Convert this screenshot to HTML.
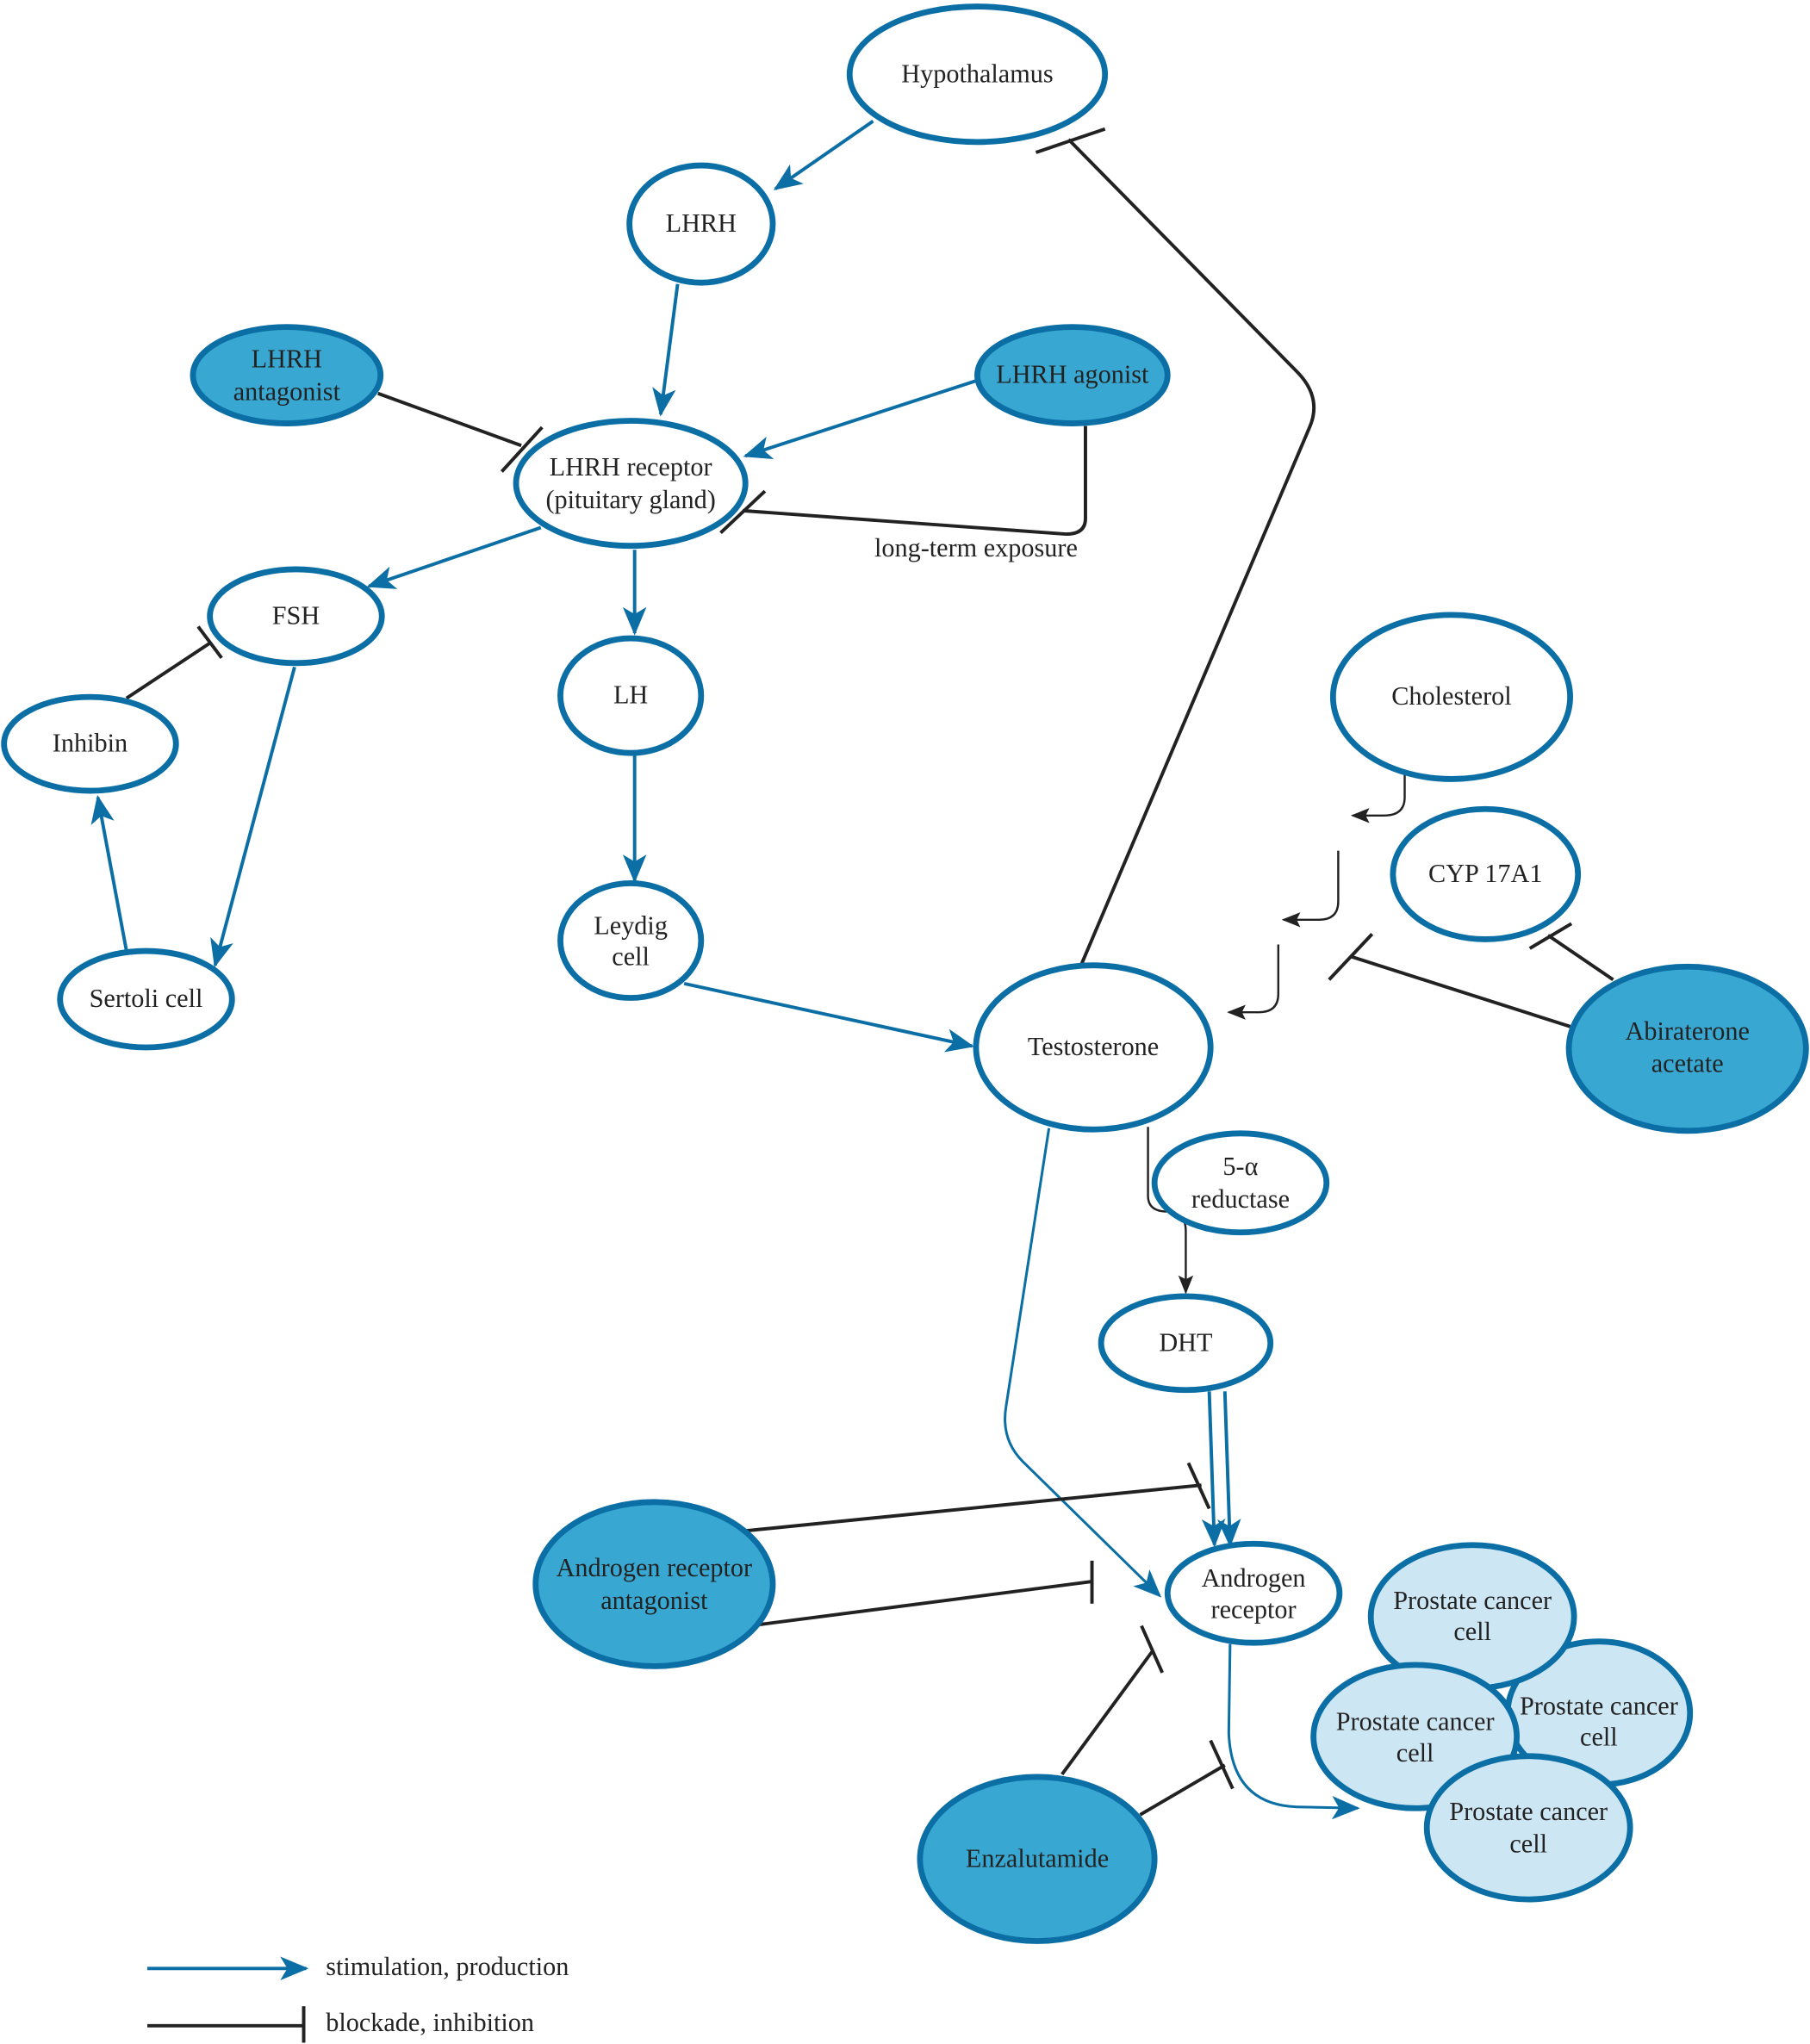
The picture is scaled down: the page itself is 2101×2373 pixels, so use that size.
<!DOCTYPE html>
<html><head><meta charset="utf-8"><style>
html,body{margin:0;padding:0;background:#fff;}
svg{display:block;}
text{font-family:"Liberation Serif",serif;font-size:20px;fill:#222;text-anchor:middle;}
</style></head><body>
<svg width="2101" height="2373" viewBox="0 0 1389 1569" xmlns="http://www.w3.org/2000/svg">
<defs>
<marker id="ab" viewBox="0 0 12 10" refX="11" refY="5" markerWidth="8.5" markerHeight="7" orient="auto" markerUnits="strokeWidth">
<path d="M0,0 L12,5 L0,10 L3,5 z" fill="#0b6fa6"/></marker>
<marker id="abt" viewBox="0 0 12 10" refX="11" refY="5" markerWidth="11" markerHeight="9" orient="auto" markerUnits="strokeWidth">
<path d="M0,0 L12,5 L0,10 L3,5 z" fill="#0b6fa6"/></marker>
<marker id="ak" viewBox="0 0 10 10" refX="9" refY="5" markerWidth="9" markerHeight="9" orient="auto" markerUnits="strokeWidth">
<path d="M0,1 L10,5 L0,9 L2,5 z" fill="#222"/></marker>
</defs>
<g fill="none" stroke-linecap="butt">
<g stroke="#0b6fa6" stroke-width="2.6">
<line x1="670" y1="93" x2="595" y2="145" marker-end="url(#ab)"/>
<line x1="520" y1="218" x2="507" y2="318" marker-end="url(#ab)"/>
<line x1="750" y1="292" x2="572" y2="350" marker-end="url(#ab)"/>
<line x1="415" y1="405" x2="283" y2="450" marker-end="url(#ab)"/>
<line x1="487" y1="422" x2="487" y2="486" marker-end="url(#ab)"/>
<line x1="226" y1="512" x2="165" y2="741" marker-end="url(#ab)"/>
<line x1="97" y1="730" x2="75" y2="612" marker-end="url(#ab)"/>
<line x1="487" y1="580" x2="487" y2="676" marker-end="url(#ab)"/>
<line x1="525" y1="755" x2="746" y2="803" marker-end="url(#ab)"/>
<line x1="928" y1="1068" x2="932" y2="1186" marker-end="url(#ab)"/>
<line x1="940" y1="1068" x2="944" y2="1186" marker-end="url(#ab)"/>
<line x1="113" y1="1511" x2="235" y2="1511" marker-end="url(#ab)"/>
</g>
<g stroke="#0b6fa6" stroke-width="2">
<path d="M805,866 L772,1080 Q768,1105 785,1122 L890,1225" marker-end="url(#abt)"/>
<path d="M944,1262 L943,1330 Q945,1385 995,1387 L1042,1388" marker-end="url(#abt)"/>
</g>
<g stroke="#222" stroke-width="2.6">
<line x1="290" y1="302" x2="400" y2="342"/><line x1="385" y1="362" x2="416" y2="328"/>
<path d="M833,327 L833,398 Q833,410 818,410 L570,392"/><line x1="553" y1="409" x2="587" y2="377"/>
<path d="M830,740 L1005,328 Q1015,305 995,285 L820,107"/><line x1="795" y1="117" x2="848" y2="99"/>
<line x1="97" y1="536" x2="162" y2="493"/><line x1="152" y1="481" x2="170" y2="505"/>
<line x1="1238" y1="752" x2="1188" y2="718"/><line x1="1174" y1="728" x2="1206" y2="709"/>
<line x1="1205" y1="788" x2="1036" y2="734"/><line x1="1020" y1="752" x2="1053" y2="717"/>
<line x1="573" y1="1175" x2="922" y2="1140"/><line x1="912" y1="1123" x2="928" y2="1158"/>
<line x1="583" y1="1247" x2="838" y2="1214"/><line x1="838" y1="1198" x2="838" y2="1231"/>
<line x1="815" y1="1362" x2="884" y2="1268"/><line x1="876" y1="1248" x2="892" y2="1284"/>
<line x1="875" y1="1393" x2="940" y2="1355"/><line x1="929" y1="1336" x2="946" y2="1373"/>
<line x1="113" y1="1555" x2="233" y2="1555"/><line x1="233" y1="1540" x2="233" y2="1568"/>
</g>
<g stroke="#222" stroke-width="1.6">
<path d="M1078,572 L1078,612 Q1078,626 1062,626 L1038,626" marker-end="url(#ak)"/>
<path d="M1027,653 L1027,692 Q1027,706 1012,706 L985,706" marker-end="url(#ak)"/>
<path d="M981,725 L981,763 Q981,777 966,777 L943,777" marker-end="url(#ak)"/>
<path d="M881,865 L881,918 Q881,930 896,930 Q910,930 910,945 L910,992" marker-end="url(#ak)"/>
</g>
</g>
<g stroke="#0b6fa6" stroke-width="4.5">
<g fill="#fff">
<ellipse cx="750" cy="57" rx="98" ry="52"/>
<ellipse cx="538" cy="172" rx="55" ry="45"/>
<ellipse cx="484" cy="371" rx="88" ry="48"/>
<ellipse cx="227" cy="473" rx="66" ry="36"/>
<ellipse cx="484" cy="534" rx="54" ry="44"/>
<ellipse cx="69" cy="571" rx="66" ry="36"/>
<ellipse cx="1114" cy="535" rx="91" ry="63"/>
<ellipse cx="1140" cy="671" rx="71" ry="50"/>
<ellipse cx="484" cy="722" rx="54" ry="44"/>
<ellipse cx="112" cy="767" rx="66" ry="37"/>
<ellipse cx="839" cy="804" rx="90" ry="63"/>
<ellipse cx="952" cy="908" rx="66" ry="38"/>
<ellipse cx="910" cy="1031" rx="65" ry="36"/>
<ellipse cx="962" cy="1223" rx="66" ry="38"/>
</g>
<g fill="#38a8d2">
<ellipse cx="220" cy="288" rx="72" ry="37"/>
<ellipse cx="823" cy="288" rx="73" ry="37"/>
<ellipse cx="1295" cy="805" rx="91" ry="63"/>
<ellipse cx="502" cy="1216" rx="91" ry="63"/>
<ellipse cx="796" cy="1427" rx="90" ry="63"/>
</g>
<g fill="#cde6f3">
<ellipse cx="1227" cy="1315" rx="70" ry="55"/>
<ellipse cx="1130" cy="1241" rx="78" ry="55"/>
<ellipse cx="1086" cy="1333" rx="78" ry="55"/>
<ellipse cx="1173" cy="1403" rx="78" ry="55"/>
</g>
</g>
<text x="750" y="63">Hypothalamus</text>
<text x="538" y="178">LHRH</text>
<text x="220" y="282">LHRH</text><text x="220" y="307">antagonist</text>
<text x="823" y="294">LHRH agonist</text>
<text x="484" y="365">LHRH receptor</text><text x="484" y="390">(pituitary gland)</text>
<text x="749" y="427">long-term exposure</text>
<text x="227" y="479">FSH</text>
<text x="484" y="540">LH</text>
<text x="69" y="577">Inhibin</text>
<text x="1114" y="541">Cholesterol</text>
<text x="1140" y="677">CYP 17A1</text>
<text x="484" y="717">Leydig</text><text x="484" y="741">cell</text>
<text x="112" y="773">Sertoli cell</text>
<text x="839" y="810">Testosterone</text>
<text x="1295" y="798">Abiraterone</text><text x="1295" y="823">acetate</text>
<text x="952" y="902">5-α</text><text x="952" y="927">reductase</text>
<text x="910" y="1037">DHT</text>
<text x="502" y="1210">Androgen receptor</text><text x="502" y="1235">antagonist</text>
<text x="962" y="1218">Androgen</text><text x="962" y="1242">receptor</text>
<text x="1130" y="1235">Prostate cancer</text><text x="1130" y="1259">cell</text>
<text x="1227" y="1316">Prostate cancer</text><text x="1227" y="1340">cell</text>
<text x="1086" y="1328">Prostate cancer</text><text x="1086" y="1352">cell</text>
<text x="1173" y="1397">Prostate cancer</text><text x="1173" y="1422">cell</text>
<text x="796" y="1433">Enzalutamide</text>
<text x="250" y="1516" style="text-anchor:start">stimulation, production</text>
<text x="250" y="1559" style="text-anchor:start">blockade, inhibition</text>
</svg>
</body></html>
